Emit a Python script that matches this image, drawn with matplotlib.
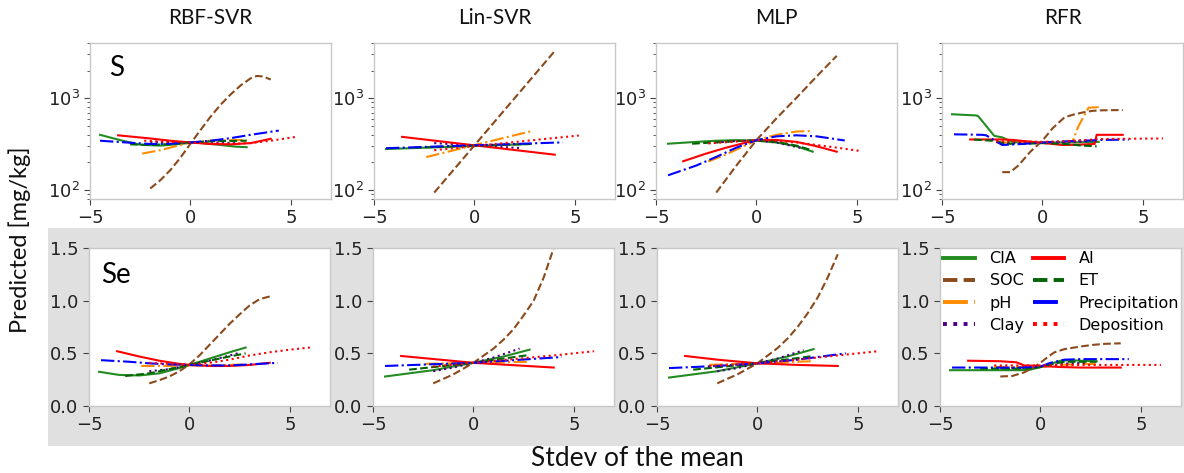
import matplotlib
matplotlib.use("Agg")
import matplotlib.pyplot as plt
from matplotlib.patches import Rectangle

plt.rcParams["font.family"] = ["DejaVu Sans"]

# Partial-dependence style responses: predicted concentration vs. predictor shift (stdev from mean)
models = ["RBF-SVR", "Lin-SVR", "MLP", "RFR"]
variables = ["CIA", "SOC", "pH", "Clay", "AI", "ET", "Precipitation", "Deposition"]

colors = {"CIA": "forestgreen", "SOC": "#8b4a1c", "pH": "darkorange", "Clay": "indigo",
          "AI": "red", "ET": "darkgreen", "Precipitation": "blue", "Deposition": "red"}
styles = {"CIA": "-", "SOC": "--", "pH": "-.", "Clay": ":",
          "AI": "-", "ET": "--", "Precipitation": "-.", "Deposition": ":"}

# ---- Sulfur (S), mg/kg ----
s_rbf = {
    "CIA": ([-4.5, -3.5, -2.5, -1.5, -0.5, 0, 0.5, 1.5, 2.2, 2.8],
            [400, 350, 312, 305, 318, 330, 326, 310, 298, 293]),
    "SOC": ([-2, -1.5, -1, -0.5, 0, 0.5, 1, 1.5, 2, 2.5, 3, 3.3, 3.6, 4],
            [104, 128, 165, 225, 320, 450, 630, 850, 1100, 1380, 1650, 1750, 1730, 1600]),
    "pH": ([-2.4, -1.5, -0.5, 0, 1, 2, 2.8], [250, 272, 310, 330, 345, 350, 352]),
    "Clay": ([-2, 0, 2.3], [335, 330, 326]),
    "AI": ([-3.6, -2, -1, 0, 1, 2, 3, 4], [395, 365, 345, 330, 318, 315, 325, 362]),
    "ET": ([-3, -2, -1, 0, 1, 2, 2.8], [315, 310, 318, 330, 340, 343, 345]),
    "Precipitation": ([-4.5, -3, -2, -1, 0, 1, 2, 3, 4.4],
                      [345, 328, 318, 320, 330, 345, 368, 400, 445]),
    "Deposition": ([-2.3, -1, 0, 1, 2, 3, 4, 5.2], [345, 335, 330, 322, 320, 325, 345, 378]),
}
s_lin = {
    "CIA": ([-4.4, 2.8], [280, 318]),
    "SOC": ([-2, 4], [94, 3270]),
    "pH": ([-2.4, 2.8], [229, 437]),
    "Clay": ([-2, 2.3], [325, 287]),
    "AI": ([-3.6, 4.0], [380, 243]),
    "ET": ([-3, 2.8], [290, 318]),
    "Precipitation": ([-4.4, 4.4], [286, 331]),
    "Deposition": ([-2, 5.2], [272, 393]),
}
s_mlp = {
    "CIA": ([-4.4, -3, -2, -1, 0, 1, 2, 2.8], [320, 335, 345, 350, 345, 330, 300, 262]),
    "SOC": ([-2, -1, 0, 1, 2, 3, 4], [94, 185, 350, 605, 1015, 1730, 2900]),
    "pH": ([-2.4, -1.5, -0.5, 0, 1, 2, 2.8], [205, 245, 310, 350, 400, 435, 440]),
    "Clay": ([-2, -1, 0, 1, 2.3], [330, 342, 348, 330, 285]),
    "AI": ([-3.65, -2.5, -1.5, -0.5, 0, 1, 2, 3, 4], [206, 250, 290, 330, 350, 352, 335, 300, 262]),
    "ET": ([-3.2, -2, -1, 0, 1, 2, 2.8], [320, 332, 342, 348, 335, 305, 270]),
    "Precipitation": ([-4.4, -3, -2, -1, 0, 1, 2, 3, 4.4],
                      [145, 185, 230, 290, 350, 385, 395, 385, 347]),
    "Deposition": ([-2.4, -1, 0, 1, 2, 3, 4, 5.2], [322, 338, 350, 345, 330, 310, 290, 266]),
}
s_rfr = {
    "CIA": ([-4.5, -3.3, -3.2, -2.4, -2.0, -1.5, -1, 0, 1, 2, 2.8],
            [670, 650, 640, 390, 375, 335, 328, 330, 330, 332, 335]),
    "SOC": ([-2, -1.6, -1.2, -0.6, 0, 0.5, 1.1, 1.5, 2, 2.5, 3, 4],
            [157, 157, 185, 262, 345, 470, 620, 660, 700, 730, 740, 745]),
    "pH": ([-2.3, -1, 0, 1, 1.5, 1.8, 2.3, 2.8], [330, 330, 330, 335, 340, 500, 790, 800]),
    "Clay": ([-2, 0, 2.3], [325, 330, 340]),
    "AI": ([-3.6, -2, -1.5, -0.5, 0.5, 1, 1.8, 2.6, 2.7, 4],
           [356, 356, 352, 335, 318, 310, 312, 318, 400, 400]),
    "ET": ([-3.4, -2.5, -1.8, -1, 0, 1, 2, 2.7], [355, 345, 320, 318, 325, 320, 305, 300]),
    "Precipitation": ([-4.4, -3, -2.8, -2.0, -1, 0, 1, 2, 3, 4.3],
                      [405, 400, 395, 310, 318, 330, 338, 345, 352, 355]),
    "Deposition": ([-2.3, -1, 0, 1, 2, 3, 4, 6], [340, 340, 335, 340, 350, 360, 362, 365]),
}

# ---- Selenium (Se), mg/kg ----
se_rbf = {
    "CIA": ([-4.5, -3.5, -2.5, -1.5, -0.5, 0, 1, 2, 2.8],
            [0.325, 0.295, 0.29, 0.31, 0.36, 0.39, 0.45, 0.51, 0.555]),
    "SOC": ([-2, -1.5, -1, -0.5, 0, 0.5, 1, 1.5, 2, 2.5, 3, 3.5, 4],
            [0.215, 0.245, 0.28, 0.33, 0.395, 0.48, 0.58, 0.68, 0.78, 0.87, 0.955, 1.015, 1.04]),
    "pH": ([-2.4, -1, 0, 1, 2, 2.8], [0.38, 0.38, 0.385, 0.385, 0.39, 0.395]),
    "Clay": ([-2, -1, 0, 1, 2, 2.4], [0.33, 0.35, 0.39, 0.43, 0.48, 0.50]),
    "AI": ([-3.6, -2.5, -1.5, -0.5, 0, 1, 2, 3, 4],
           [0.52, 0.47, 0.43, 0.40, 0.39, 0.38, 0.38, 0.39, 0.41]),
    "ET": ([-3.2, -2, -1, 0, 1, 2, 2.8], [0.285, 0.31, 0.35, 0.39, 0.43, 0.47, 0.50]),
    "Precipitation": ([-4.4, -3, -2, -1, 0, 1, 2, 3, 4.4],
                      [0.435, 0.42, 0.405, 0.395, 0.39, 0.385, 0.385, 0.395, 0.41]),
    "Deposition": ([-2, -1, 0, 1, 2, 3, 4, 5, 6],
                   [0.41, 0.40, 0.39, 0.41, 0.44, 0.48, 0.51, 0.535, 0.555]),
}
se_lin = {
    "CIA": ([-4.4, -2, 0, 1.5, 2.8], [0.28, 0.34, 0.41, 0.47, 0.535]),
    "SOC": ([-2, -1, 0, 1, 1.5, 2, 2.5, 3, 3.5, 4],
            [0.215, 0.30, 0.41, 0.545, 0.63, 0.73, 0.86, 1.0, 1.22, 1.5]),
    "pH": ([-2.4, 0, 2.8], [0.40, 0.41, 0.42]),
    "Clay": ([-2, -1, 0, 1, 2.3], [0.33, 0.365, 0.41, 0.46, 0.545]),
    "AI": ([-3.6, 0, 4], [0.475, 0.41, 0.365]),
    "ET": ([-3.2, 0, 2.8], [0.345, 0.41, 0.485]),
    "Precipitation": ([-4.4, 0, 4.4], [0.38, 0.41, 0.465]),
    "Deposition": ([-2, 0, 2, 4, 6], [0.375, 0.41, 0.445, 0.48, 0.52]),
}
se_mlp = {
    "CIA": ([-4.4, -2, 0, 1.5, 2.8], [0.27, 0.33, 0.405, 0.47, 0.54]),
    "SOC": ([-2, -1, 0, 1, 1.5, 2, 2.5, 3, 3.5, 4],
            [0.215, 0.30, 0.405, 0.55, 0.64, 0.75, 0.88, 1.03, 1.22, 1.44]),
    "pH": ([-2.4, -1, 0, 1, 2, 2.7], [0.39, 0.40, 0.405, 0.41, 0.42, 0.425]),
    "Clay": ([-2, -1, 0, 1, 2.3], [0.33, 0.36, 0.405, 0.45, 0.53]),
    "AI": ([-3.6, -2, 0, 2, 4], [0.475, 0.44, 0.405, 0.39, 0.38]),
    "ET": ([-3.2, 0, 2.8], [0.345, 0.405, 0.475]),
    "Precipitation": ([-4.4, -2, 0, 2, 4.4], [0.36, 0.38, 0.405, 0.44, 0.50]),
    "Deposition": ([-2.4, 0, 2, 4, 6], [0.38, 0.405, 0.44, 0.48, 0.52]),
}
se_rfr = {
    "CIA": ([-4.5, -2, -1, -0.5, 0, 0.5, 1, 1.5, 2, 2.8],
            [0.34, 0.34, 0.34, 0.345, 0.37, 0.40, 0.43, 0.435, 0.43, 0.425]),
    "SOC": ([-2, -1.4, -0.8, -0.4, 0, 0.4, 0.7, 1.2, 2, 2.6, 3.2, 4],
            [0.28, 0.285, 0.32, 0.36, 0.41, 0.47, 0.51, 0.54, 0.565, 0.58, 0.59, 0.595]),
    "pH": ([-2.3, -1, 0, 1, 2, 2.8], [0.37, 0.37, 0.37, 0.39, 0.40, 0.40]),
    "Clay": ([-2, -1, 0, 1, 2.3], [0.36, 0.36, 0.37, 0.40, 0.41]),
    "AI": ([-3.6, -2, -1.2, -0.8, 0, 0.5, 1, 2, 4],
           [0.43, 0.425, 0.415, 0.385, 0.38, 0.375, 0.37, 0.365, 0.365]),
    "ET": ([-3, -1, -0.3, 0, 0.6, 1.2, 2, 2.8], [0.355, 0.355, 0.36, 0.37, 0.40, 0.42, 0.42, 0.42]),
    "Precipitation": ([-4.4, -1, -0.5, 0, 0.5, 1.2, 2, 4.4],
                      [0.365, 0.365, 0.37, 0.375, 0.41, 0.44, 0.445, 0.445]),
    "Deposition": ([-2.3, 0, 2, 4, 6], [0.385, 0.385, 0.39, 0.39, 0.39]),
}

s_panels = [s_rbf, s_lin, s_mlp, s_rfr]
se_panels = [se_rbf, se_lin, se_mlp, se_rfr]

W, H = 1184, 473
fig = plt.figure(figsize=(W / 100, H / 100), dpi=100)

# grey band behind the Se row
fig.patches.append(Rectangle((48 / W, 1 - 446 / H), 1 - 48 / W, 218 / H,
                             transform=fig.transFigure, facecolor="#e0e0e0",
                             edgecolor="none", zorder=-1))

lefts_top = [90, 374, 656, 942]
lefts_bot = [89, 373, 657, 940]
aw = 241
spine_col = "#c8c8c8"
label_font = "Lato"


def style_axes(ax):
    for sp in ax.spines.values():
        sp.set_color(spine_col)
        sp.set_linewidth(1.0)
    ax.tick_params(which="both", direction="out", color="#444444", labelsize=13,
                   labelcolor="#222222")
    ax.tick_params(which="major", length=4)
    ax.tick_params(which="minor", length=2.5)
    ax.set_facecolor("white")


top_axes, bot_axes = [], []
for i in range(4):
    ax = fig.add_axes([lefts_top[i] / W, 1 - 199 / H, aw / W, 156 / H])
    for v in variables:
        xs, ys = s_panels[i][v]
        ax.plot(xs, ys, color=colors[v], ls=styles[v], lw=1.5, label=v)
    ax.set_yscale("log")
    ax.set_xlim(-5, 7)
    ax.set_ylim(80, 4000)
    ax.set_xticks([-5, 0, 5])
    style_axes(ax)
    ax.text(0.5, 1.16, models[i], transform=ax.transAxes, ha="center", va="center",
            fontsize=15, family=label_font, color="#111111")
    top_axes.append(ax)

for i in range(4):
    ax = fig.add_axes([lefts_bot[i] / W, 1 - 406 / H, aw / W, 158 / H])
    for v in variables:
        xs, ys = se_panels[i][v]
        ax.plot(xs, ys, color=colors[v], ls=styles[v], lw=1.5, label=v)
    ax.set_xlim(-5, 7)
    ax.set_ylim(0, 1.5)
    ax.set_xticks([-5, 0, 5])
    ax.set_yticks([0, 0.5, 1.0, 1.5])
    style_axes(ax)
    bot_axes.append(ax)

top_axes[0].text(0.11, 0.84, "S", transform=top_axes[0].transAxes, ha="center",
                 va="center", fontsize=20, family=label_font)
bot_axes[0].text(0.11, 0.83, "Se", transform=bot_axes[0].transAxes, ha="center",
                 va="center", fontsize=20, family=label_font)

leg = bot_axes[3].legend(ncol=2, loc="upper left", bbox_to_anchor=(0, 1.0),
                         fontsize=11.5, frameon=False, borderpad=0.2, borderaxespad=0.0,
                         labelspacing=0.45, columnspacing=0.5, handlelength=2.0,
                         handletextpad=0.9)
for h in leg.get_lines():
    h.set_linewidth(2.8)

fig.text(637 / W, 1 - 458 / H, "Stdev of the mean", ha="center", va="center",
         fontsize=19, family=label_font, color="#111111")
fig.text(20 / W, 1 - 240 / H, "Predicted [mg/kg]", ha="center", va="center",
         rotation=90, fontsize=17, family=label_font, color="#111111")

fig.savefig("out.png", dpi=100)
